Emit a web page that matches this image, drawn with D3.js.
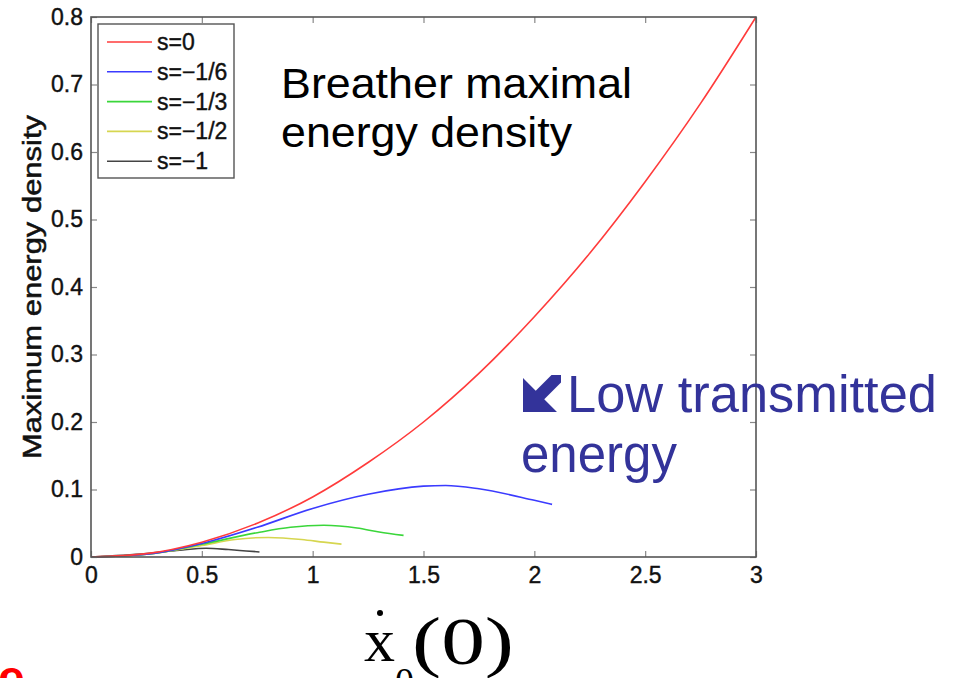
<!DOCTYPE html>
<html>
<head>
<meta charset="utf-8">
<script src="https://cdn.jsdelivr.net/npm/d3@7"></script>
<style>
  body { margin: 0; background: #fff; }
  text { font-family: Arial, "Liberation Sans", Helvetica, sans-serif; }
</style>
</head>
<body>
<div id="vis"></div>
<script>
// curves: [x, max energy density]
var sZero = [[0,0],[0.25,0.005],[0.5,0.022],[0.75,0.05],[1,0.089],[1.25,0.14],[1.5,0.2],[1.75,0.272],[2,0.356],[2.25,0.45],[2.5,0.556],[2.75,0.672],[3,0.8]];
var sSixth = [[0,0],[0.25,0.004],[0.5,0.02],[0.75,0.044],[1,0.072],[1.25,0.093],[1.5,0.105],[1.6,0.106],[1.75,0.101],[2,0.084],[2.08,0.078]];
var sThird = [[0,0],[0.25,0.004],[0.5,0.019],[0.75,0.036],[0.9,0.044],[1.05,0.047],[1.2,0.043],[1.3,0.037],[1.41,0.032]];
var sHalf = [[0,0],[0.25,0.004],[0.5,0.017],[0.65,0.026],[0.8,0.029],[0.95,0.026],[1.05,0.022],[1.13,0.019]];
var sOne = [[0,0],[0.25,0.005],[0.4,0.01],[0.52,0.013],[0.62,0.011],[0.7,0.009],[0.76,0.0075]];

var seriesNames = ["s=0", "s=\u22121/6", "s=\u22121/3", "s=\u22121/2", "s=\u22121"];
var seriesColors = ["#ff3b3b", "#3b3bff", "#3ad63a", "#d6d650", "#444444"];
var seriesData = [sZero, sSixth, sThird, sHalf, sOne];

var xTicks = [0, 0.5, 1, 1.5, 2, 2.5, 3];
var yTicks = [0, 0.1, 0.2, 0.3, 0.4, 0.5, 0.6, 0.7, 0.8];

var W = 964, H = 678;
var pLeft = 91, pRight = 756, pTop = 17, pBottom = 557;

var svg = d3.select("#vis").append("svg").attr("width", W).attr("height", H);
svg.append("rect").attr("width", W).attr("height", H).attr("fill", "#fff");

var x = d3.scaleLinear().domain([0, 3]).range([pLeft, pRight]),
    y = d3.scaleLinear().domain([0, 0.8]).range([pBottom, pTop]);

// curves
var line = d3.line().x(function (d) { return x(d[0]); }).y(function (d) { return y(d[1]); })
    .curve(d3.curveMonotoneX);

// draw from the last one so red stays on top
for (var i = seriesData.length - 1; i >= 0; i--) {
    svg.append("path").attr("d", line(seriesData[i]))
        .attr("fill", "none").attr("stroke", seriesColors[i]).attr("stroke-width", 1.6);
}

// axes, ticks on the inside like matlab
var fmt = function (d) { return d3.format("")(d); };
svg.append("g").attr("transform", "translate(0," + pBottom + ")")
    .call(d3.axisBottom(x).tickValues(xTicks).tickSizeInner(-6).tickSizeOuter(0).tickPadding(10).tickFormat(fmt));
svg.append("g").attr("transform", "translate(0," + pTop + ")")
    .call(d3.axisTop(x).tickValues(xTicks).tickSizeInner(-6).tickSizeOuter(0).tickFormat(""));
svg.append("g").attr("transform", "translate(" + pLeft + ",0)")
    .call(d3.axisLeft(y).tickValues(yTicks).tickSizeInner(-6).tickSizeOuter(0).tickPadding(8).tickFormat(fmt));
svg.append("g").attr("transform", "translate(" + pRight + ",0)")
    .call(d3.axisRight(y).tickValues(yTicks).tickSizeInner(-6).tickSizeOuter(0).tickFormat(""));

svg.selectAll(".domain").remove();
svg.selectAll(".tick line").attr("stroke", "#888").attr("stroke-width", 1.2);
svg.selectAll(".tick text").attr("font-size", 23).attr("fill", "#111")
    .attr("stroke", "#111").attr("stroke-width", 0.4)
    .attr("font-family", "Arial, 'Liberation Sans', sans-serif");

svg.append("rect").attr("x", pLeft).attr("y", pTop)
    .attr("width", pRight - pLeft).attr("height", pBottom - pTop)
    .attr("fill", "none").attr("stroke", "#555").attr("stroke-width", 1.6);

// y label
svg.append("text")
    .attr("transform", "translate(41," + ((pTop + pBottom) / 2) + ") rotate(-90)")
    .attr("text-anchor", "middle").attr("font-size", 25)
    .attr("textLength", 344).attr("lengthAdjust", "spacingAndGlyphs")
    .attr("stroke", "#111").attr("stroke-width", 0.5)
    .attr("fill", "#111").text("Maximum energy density");

// x label: x-dot sub 0 (0)
var xl = svg.append("g");
xl.append("text").attr("x", 364).attr("y", 661).attr("font-size", 62)
    .style("font-family", "'Liberation Serif', serif").text("x");
xl.append("circle").attr("cx", 380).attr("cy", 613).attr("r", 3).attr("fill", "#000");
xl.append("text").attr("x", 395).attr("y", 694).attr("font-size", 38)
    .style("font-family", "'Liberation Serif', serif").text("0");
xl.append("text").attr("x", 412).attr("y", 664).attr("font-size", 68)
    .attr("textLength", 102).attr("lengthAdjust", "spacingAndGlyphs")
    .style("font-family", "'Liberation Serif', serif").text("(0)");

// legend
var lg = svg.append("g");
lg.append("rect").attr("x", 98).attr("y", 24).attr("width", 136).attr("height", 154)
    .attr("fill", "#fff").attr("stroke", "#555").attr("stroke-width", 1.4);
seriesNames.forEach(function (name, k) {
    var ly = 42 + k * 29.8;
    lg.append("line").attr("x1", 107).attr("x2", 152).attr("y1", ly).attr("y2", ly)
        .attr("stroke", seriesColors[k]).attr("stroke-width", 1.6);
    lg.append("text").attr("x", 157).attr("y", ly + 8).attr("font-size", 23)
        .attr("stroke", "#111").attr("stroke-width", 0.4)
        .attr("fill", "#111").text(name);
});

// annotations
svg.append("text").attr("x", 281).attr("y", 98).attr("font-size", 43)
    .attr("textLength", 351).attr("lengthAdjust", "spacingAndGlyphs").text("Breather maximal");
svg.append("text").attr("x", 281).attr("y", 147).attr("font-size", 43)
    .attr("textLength", 291).attr("lengthAdjust", "spacingAndGlyphs").text("energy density");

var blue = "#33339a";
var arrow = [[0,37],[0,3],[12.75,15.75],[28.5,0],[38,0],[38,7.5],[21.25,24.25],[34,37]];
svg.append("path")
    .attr("transform", "translate(523,375)")
    .attr("d", d3.line()(arrow) + "Z").attr("fill", blue);
svg.append("text").attr("x", 567).attr("y", 412).attr("font-size", 51).attr("fill", blue)
    .attr("textLength", 370).attr("lengthAdjust", "spacingAndGlyphs").text("Low transmitted");
svg.append("text").attr("x", 521).attr("y", 472).attr("font-size", 51).attr("fill", blue)
    .text("energy");

// cut-off red text at bottom left
svg.append("text").attr("x", -2).attr("y", 694).attr("font-size", 48)
    .attr("font-weight", "bold").attr("fill", "#ff0000").text("e");
</script>
</body>
</html>
